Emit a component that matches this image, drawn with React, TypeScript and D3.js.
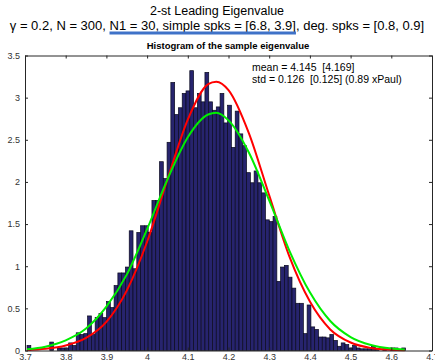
import { useEffect, useRef } from "react";
import * as d3 from "d3";

// histogram of the sample eigenvalue (density normalised), 100 bins
const binStart = 3.705;
const binWidth = 0.0093;
const binHeights = [
  0.06, 0, 0, 0, 0, 0, 0.1, 0, 0.03, 0.03,
  0.03, 0.09, 0.06, 0.21, 0.19, 0.2, 0.41, 0.19, 0.39, 0.44,
  0.39, 0.58, 0.51, 0.77, 0.92, 0.92, 0.99, 1.42, 0.97, 1.4,
  1.48, 1.48, 1.4, 1.78, 1.78, 2.24, 2.04, 2.47, 3.18, 2.8,
  2.88, 3.05, 3.08, 3.32, 2.88, 3.05, 2.95, 3.3, 2.95, 2.85,
  2.89, 3.05, 2.7, 2.91, 2.41, 2.84, 2.57, 2.43, 2.11, 1.99,
  2.13, 1.99, 1.87, 1.55, 1.53, 1.59, 0.82, 0.99, 1.01, 0.87,
  0.74, 0.56, 0.56, 0.2, 0.54, 0.28, 0.25, 0.16, 0.16, 0.15,
  0.19, 0.12, 0.05, 0.09, 0.07, 0.03, 0.06, 0.03, 0.02, 0.02,
  0.02, 0.05, 0.02, 0, 0.02, 0, 0.03, 0.03, 0, 0.03,
];

// fitted densities
const curveX = [
  3.705, 3.75, 3.8, 3.85, 3.9, 3.95, 4.0, 4.05, 4.1, 4.15, 4.17,
  4.2, 4.25, 4.3, 4.35, 4.4, 4.45, 4.5, 4.55, 4.6, 4.633,
];
const theoryFit = [
  0.005, 0.02, 0.06, 0.15, 0.34, 0.71, 1.29, 2.03, 2.74, 3.16, 3.19,
  3.09, 2.58, 1.84, 1.11, 0.58, 0.25, 0.095, 0.03, 0.008, 0.003,
];
const paulFit = [
  0.015, 0.045, 0.12, 0.26, 0.52, 0.9, 1.44, 2.03, 2.53, 2.8, 2.82,
  2.73, 2.35, 1.78, 1.18, 0.69, 0.35, 0.16, 0.065, 0.023, 0.012,
];

const xTicks = [3.7, 3.8, 3.9, 4.0, 4.1, 4.2, 4.3, 4.4, 4.5, 4.6, 4.7];
const yTicks = [0, 0.5, 1, 1.5, 2, 2.5, 3, 3.5];

const title = "2-st Leading Eigenvalue";
const subHead = ["γ = 0.2, N = 300, ", "N1 = 30, simple spks = [6.8, 3.9]", ", deg. spks = [0.8, 0.9]"];
const plotTitle = "Histogram of the sample eigenvalue";
const statLines = ["mean = 4.145  [4.169]", "std = 0.126  [0.125] (0.89 xPaul)"];

const App = () => {
  const ref = useRef<HTMLDivElement>(null);

  useEffect(() => {
    const root = d3.select(ref.current);
    root.selectAll("*").remove();

    const width = 435;
    const height = 362;
    const margin = { top: 55.5, right: 3, bottom: 11.5, left: 25 };
    const font = "'Liberation Sans', Arial, Helvetica, sans-serif";

    const x = d3.scaleLinear().domain([3.7, 4.7]).range([margin.left, width - margin.right]);
    const y = d3.scaleLinear().domain([0, 3.5]).range([height - margin.bottom, margin.top]);

    const svg = root
      .append("svg")
      .attr("width", width)
      .attr("height", height)
      .style("display", "block")
      .style("font-family", font);

    svg.append("rect").attr("width", width).attr("height", height).attr("fill", "#fff");

    // titles
    svg
      .append("text")
      .attr("x", 217)
      .attr("y", 15)
      .attr("text-anchor", "middle")
      .attr("font-size", 12.5)
      .attr("fill", "#000")
      .text(title);

    const line2 = svg
      .append("text")
      .attr("x", 217)
      .attr("y", 29.5)
      .attr("text-anchor", "middle")
      .attr("font-size", 13)
      .attr("fill", "#000")
      .style("white-space", "pre");
    line2.selectAll("tspan").data(subHead).join("tspan").text((d) => d);

    // blue underline under the N1 / simple spikes part
    const node = line2.node() as SVGTextElement;
    const start = subHead[0].length;
    const len = subHead[1].length;
    const x0 = node.getStartPositionOfChar(start).x;
    const w = node.getSubStringLength(start, len);
    svg
      .append("rect")
      .attr("x", x0)
      .attr("y", 31.5)
      .attr("width", w)
      .attr("height", 3)
      .attr("fill", "#3f72c8");

    svg
      .append("text")
      .attr("x", 228)
      .attr("y", 49)
      .attr("text-anchor", "middle")
      .attr("font-size", 9.5)
      .attr("font-weight", "bold")
      .attr("fill", "#000")
      .text(plotTitle);

    // bars
    svg
      .append("g")
      .selectAll("rect")
      .data(binHeights.map((h, i) => ({ h, i })).filter((d) => d.h > 0))
      .join("rect")
      .attr("x", (d) => x(binStart + d.i * binWidth))
      .attr("y", (d) => y(d.h))
      .attr("width", (d) => x(binStart + (d.i + 1) * binWidth) - x(binStart + d.i * binWidth))
      .attr("height", (d) => y(0) - y(d.h))
      .attr("fill", "#27246e")
      .attr("stroke", "#0a0a1e")
      .attr("stroke-width", 0.7);

    // fitted curves
    const line = d3
      .line<number>()
      .x((_, i) => x(curveX[i]))
      .y((d) => y(d))
      .curve(d3.curveMonotoneX);

    svg
      .append("path")
      .attr("d", line(theoryFit))
      .attr("fill", "none")
      .attr("stroke", "#ff0000")
      .attr("stroke-width", 2);

    svg
      .append("path")
      .attr("d", line(paulFit))
      .attr("fill", "none")
      .attr("stroke", "#00ee00")
      .attr("stroke-width", 2);

    // axes, ticks pointing inward
    const fmt = d3.format("~g");
    const styleAxis = (g: d3.Selection<SVGGElement, unknown, null, undefined>) => {
      g.select(".domain").attr("stroke", "#262626");
      g.selectAll(".tick line").attr("stroke", "#262626");
      g.selectAll(".tick text")
        .attr("fill", "#333")
        .style("font-size", "9px")
        .style("font-family", font);
    };

    svg
      .append("g")
      .attr("transform", `translate(0,${y(0)})`)
      .call(d3.axisBottom(x).tickValues(xTicks).tickFormat(fmt).tickSize(-3).tickSizeOuter(0).tickPadding(3))
      .call(styleAxis);

    svg
      .append("g")
      .attr("transform", `translate(0,${y(3.5)})`)
      .call(d3.axisTop(x).tickValues(xTicks).tickFormat(() => "").tickSize(-3).tickSizeOuter(0))
      .call(styleAxis);

    svg
      .append("g")
      .attr("transform", `translate(${x(3.7)},0)`)
      .call(d3.axisLeft(y).tickValues(yTicks).tickFormat(fmt).tickSize(-3).tickSizeOuter(0).tickPadding(5))
      .call(styleAxis);

    svg
      .append("g")
      .attr("transform", `translate(${x(4.7)},0)`)
      .call(d3.axisRight(y).tickValues(yTicks).tickFormat(() => "").tickSize(-3).tickSizeOuter(0))
      .call(styleAxis);

    // stats text
    svg
      .append("g")
      .selectAll("text")
      .data(statLines)
      .join("text")
      .attr("x", 252)
      .attr("y", (_, i) => 71 + i * 12)
      .attr("font-size", 10.5)
      .attr("fill", "#000")
      .style("white-space", "pre")
      .text((d) => d);

    return () => {
      root.selectAll("*").remove();
    };
  }, []);

  return <div ref={ref} style={{ position: "absolute", left: 0, top: 0 }}></div>;
};

export default App;
